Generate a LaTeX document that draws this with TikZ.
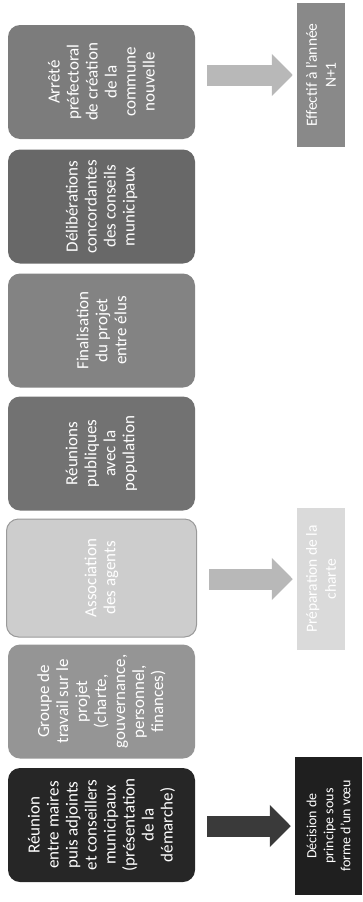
\documentclass[tikz,border=0pt]{standalone}
\usepackage{fontspec}
\setmainfont{Carlito}
\usetikzlibrary{arrows.meta}
\definecolor{cReu}{HTML}{262626}
\definecolor{cGro}{HTML}{959595}
\definecolor{cAss}{HTML}{CDCDCD}
\definecolor{cAssLine}{HTML}{9A9A9A}
\definecolor{cPub}{HTML}{727272}
\definecolor{cFin}{HTML}{838383}
\definecolor{cDel}{HTML}{686868}
\definecolor{cArr}{HTML}{7C7C7C}
\definecolor{cDec}{HTML}{1F1F1F}
\definecolor{cPre}{HTML}{DADADA}
\definecolor{cEff}{HTML}{898989}
\definecolor{arDark}{HTML}{3A3A3A}
\definecolor{arLight}{HTML}{B8B8B8}
\begin{document}
\begin{tikzpicture}[x=1pt,y=-1pt,
  lbox/.style={rotate=90, rounded corners=12pt, minimum width=114pt,
    minimum height=187pt, text=white, align=center,
    font=\fontsize{17}{19}\selectfont, inner sep=2pt},
  rbox/.style={rotate=90, minimum height=48pt, text=white, align=center,
    font=\fontsize{15.5}{19}\selectfont, inner sep=2pt},
  fatarrow/.style={line width=21pt, -{Triangle[length=21pt,width=41pt]},
    shorten <=12pt, shorten >=4pt}]
\useasboundingbox (0,0) rectangle (362,902);

% left column boxes (bottom to top in process order)
\node[lbox, fill=cReu] (b1) at (101.5,825) {Réunion\\entre maires\\puis adjoints\\et conseillers\\municipaux\\(présentation\\de la\\démarche)};
\node[lbox, fill=cGro] (b2) at (101.5,701.5) {Groupe de\\travail sur le\\projet\\(charte,\\gouvernance,\\personnel,\\finances)};
\node[lbox, fill=cAss, draw=cAssLine, line width=1pt, minimum width=118pt, minimum height=190pt] (b3) at (101.5,578) {Association\\des agents};
\node[lbox, fill=cPub] (b4) at (101.5,453.5) {Réunions\\publiques\\avec la\\population};
\node[lbox, fill=cFin] (b5) at (101.5,330.5) {Finalisation\\du projet\\entre élus};
\node[lbox, fill=cDel] (b6) at (101.5,206.5) {Délibérations\\concordantes\\des conseils\\municipaux};
\node[lbox, fill=cArr] (b7) at (101.5,82) {Arrêté\\préfectoral\\de création\\de la\\commune\\nouvelle};

% right column boxes
\node[rbox, fill=cDec, minimum width=138pt, minimum height=67pt,
  font=\fontsize{14}{17}\selectfont] (r1) at (328.5,826) {Décision de\\principe sous\\forme d'un vœu};
\node[rbox, fill=cPre, minimum width=142pt] (r3) at (321,579) {Préparation de la\\charte};
\node[rbox, fill=cEff, minimum width=144pt] (r7) at (321,75) {Effectif à l'année\\N+1};

% block arrows
\draw[fatarrow, draw=arDark, fill=arDark] (b1.south |- r1.north) -- (r1.north);
\draw[fatarrow, draw=arLight, fill=arLight] (b3.south |- r3.north) -- (r3.north);
\draw[fatarrow, draw=arLight, fill=arLight] (b7.south |- r7.north) -- (r7.north);
\end{tikzpicture}
\end{document}
